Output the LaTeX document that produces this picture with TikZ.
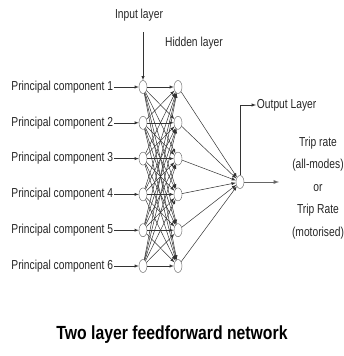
\documentclass[tikz,border=0pt]{standalone}
\usepackage{fontspec}
\setmainfont{Liberation Sans}
\usetikzlibrary{arrows,shapes.geometric,positioning}

\begin{document}
\begin{tikzpicture}[x=1pt,y=1pt]

\tikzset{unit/.style={ellipse, draw=black!65, fill=white, minimum width=8pt, minimum height=13pt, inner sep=0pt},
         lbl/.style={font=\fontsize{13}{13}\selectfont, text=black!85, xscale=0.79, transform shape, inner sep=1pt},
         wire/.style={draw=black!80, line width=0.5pt}}

\useasboundingbox (0,0) rectangle (344,-356);

% input and hidden layer
\foreach \i in {1,...,6} {
    \node[unit] (in\i) at (143,{-87-35.8*(\i-1)}) {};
    \node[unit] (hid\i) at (178,{-87-35.8*(\i-1)}) {};
    \node[lbl, anchor=east] (pc\i) at (114,{-87-35.8*(\i-1)}) {Principal component \i};
    \draw[wire,-latex] (pc\i) -- (in\i);
}
\foreach \i in {1,...,6}
    \foreach \j in {1,...,6}
        \draw[wire,-latex] (in\i) -- (hid\j);

% output layer
\node[unit] (out) at (240,-182) {};
\foreach \j in {1,...,6}
    \draw[wire,-latex] (hid\j) -- (out);
\coordinate (res) at (279,-182);
\draw[draw=black!60, line width=0.9pt, -latex] (out) -- (res);

% labels
\node[lbl] (inlbl) at (139,-15) {Input layer};
\coordinate (intop) at (143,-32);
\draw[wire,-latex] (intop) -- (in1);
\node[lbl] (hidlbl) at (194,-43) {Hidden layer};
\node[lbl, anchor=west] (outlbl) at (256,-105) {Output Layer};
\draw[wire,-latex] (out.north) |- (outlbl.west);
\node[lbl, align=center, font=\fontsize{13}{22.5}\selectfont] (trip) at (318,-188)
    {Trip rate\\(all-modes)\\or\\Trip Rate\\(motorised)};

\node[font=\bfseries\fontsize{19}{19}\selectfont, xscale=0.83, transform shape] (title) at (172,-335)
    {Two layer feedforward network};

\end{tikzpicture}
\end{document}
